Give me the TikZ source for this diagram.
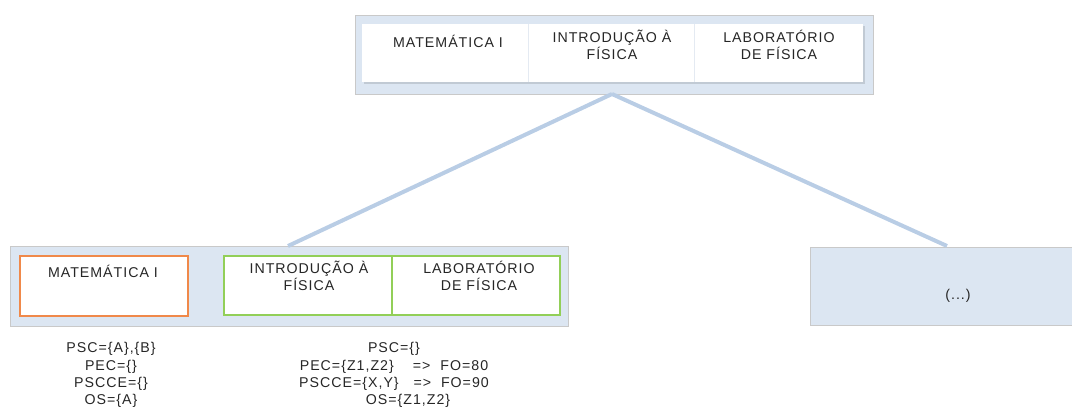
\documentclass[tikz,border=0pt]{standalone}
\usepackage{fontspec}
\setmainfont{Liberation Sans}[LetterSpace=7]
\definecolor{panelfill}{HTML}{DCE6F2}
\definecolor{panelline}{HTML}{C9C9C9}
\definecolor{linkblue}{HTML}{B9CDE5}
\definecolor{orangeline}{HTML}{F0894A}
\definecolor{greenline}{HTML}{92CF58}
\definecolor{sepline}{HTML}{E4EAF2}
\definecolor{txt}{HTML}{262626}
\tikzset{
  panel/.style={draw=panelline, line width=1pt, fill=panelfill, anchor=north west, inner sep=0pt},
  cell/.style={fill=white, anchor=north west, inner sep=0pt},
  cellshadow/.style={fill=black, opacity=0.12, anchor=north west, inner sep=0pt},
  label/.style={text=txt, font=\fontsize{14.2}{16.5}\selectfont, align=center, inner sep=0pt},
  note/.style={text=txt, font=\fontsize{14.2}{17.3}\selectfont, align=center, inner sep=0pt},
  link/.style={draw=linkblue, line width=4pt},
}
\begin{document}
\begin{tikzpicture}[x=1pt, y=-1pt]
\useasboundingbox (0,0) rectangle (1072,407);

% upper panel with three subject cells
\node[panel, minimum width=518pt, minimum height=79pt] (top) at (355,15) {};
\node[cellshadow, minimum width=501pt, minimum height=58pt] (topshadow) at (363.5,25.5) {};
\node[cell, minimum width=501pt, minimum height=58pt] (topcells) at (362,24) {};
\draw[sepline, line width=1pt] (528,24) -- (528,82);
\draw[sepline, line width=1pt] (694,24) -- (694,82);
\node[label] (t1) at (448,41) {MATEMÁTICA I};
\node[label] (t2) at (612,45) {INTRODUÇÃO À\\FÍSICA};
\node[label] (t3) at (779,45) {LABORATÓRIO\\DE FÍSICA};

% lower left panel
\node[panel, minimum width=558pt, minimum height=80pt] (left) at (10,246) {};
\node[cellshadow, minimum width=168pt, minimum height=60pt] (mathshadow) at (20.5,256.5) {};
\node[cellshadow, minimum width=336pt, minimum height=59pt] (physshadow) at (224.5,256.5) {};
\node[cell, draw=orangeline, line width=1.6pt, minimum width=168pt, minimum height=60pt] (math) at (19,255) {};
\node[cell, draw=greenline, line width=1.6pt, minimum width=336pt, minimum height=59pt] (phys) at (223,255) {};
\draw[greenline, line width=1.6pt] (392,255) -- (392,314);
\node[label] (b1) at (103,271) {MATEMÁTICA I};
\node[label] (b2) at (309,276) {INTRODUÇÃO À\\FÍSICA};
\node[label] (b3) at (479,276) {LABORATÓRIO\\DE FÍSICA};

% lower right panel
\node[panel, minimum width=275pt, minimum height=78pt] (right) at (810,247) {};
\node[label] (dots) at (958,296) {(...)};

% links from the upper panel down to the lower ones
\coordinate (apex) at (612,94);
\coordinate (leftend) at (288,246);
\coordinate (rightend) at (947,246);
\draw[link] (apex) -- (leftend);
\draw[link] (apex) -- (rightend);

% notes below the lower panels
\node[note] (n1) at (111,375) {PSC=\{A\},\{B\}\\PEC=\{\}\\PSCCE=\{\}\\OS=\{A\}};
\node[note] (n2) at (394,375) {PSC=\{\}\\PEC=\{Z1,Z2\}\quad\ =>\ \ FO=80\\PSCCE=\{X,Y\}\ \ \ =>\ \ FO=90\\\hspace*{28pt}OS=\{Z1,Z2\}};
\end{tikzpicture}
\end{document}
